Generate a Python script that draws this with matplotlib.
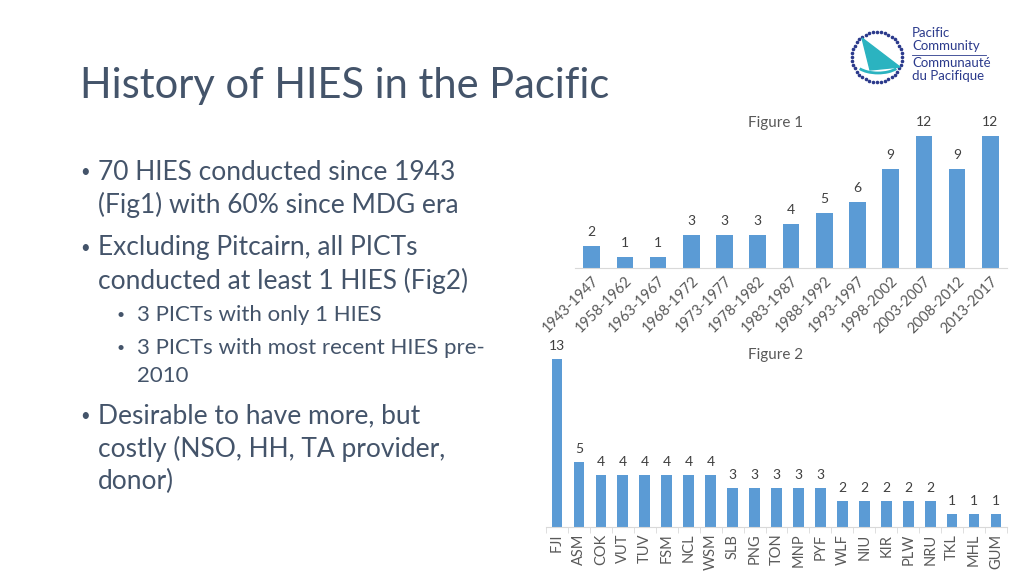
import numpy as np
import matplotlib
matplotlib.use("Agg")
import matplotlib.pyplot as plt
from matplotlib.patches import Polygon, Arc

plt.rcParams['font.family'] = ['Lato', 'DejaVu Sans']

# Figure 1 data: HIES by 5-year period
periods = ["1943-1947", "1958-1962", "1963-1967", "1968-1972", "1973-1977",
           "1978-1982", "1983-1987", "1988-1992", "1993-1997", "1998-2002",
           "2003-2007", "2008-2012", "2013-2017"]
period_counts = [2, 1, 1, 3, 3, 3, 4, 5, 6, 9, 12, 9, 12]

# Figure 2 data: HIES by country
countries = ["FJI", "ASM", "COK", "VUT", "TUV", "FSM", "NCL", "WSM", "SLB", "PNG",
             "TON", "MNP", "PYF", "WLF", "NIU", "KIR", "PLW", "NRU", "TKL", "MHL", "GUM"]
country_counts = [13, 5, 4, 4, 4, 4, 4, 4, 3, 3, 3, 3, 3, 2, 2, 2, 2, 2, 1, 1, 1]

bar_col = "#5B9BD5"
txt_col = "#44546A"
lab_col = "#404040"
W, H = 1024, 576

fig = plt.figure(figsize=(10.24, 5.76), dpi=100)
fig.patch.set_facecolor("white")


def px(x, y):
    return x / W, 1 - y / H


# title and bullets
fig.text(*px(80, 86), "History of HIES in the Pacific", fontsize=30,
         color=txt_col, va="center", ha="left")

main_lines = [(172, "70 HIES conducted since 1943", True),
              (205, "(Fig1) with 60% since MDG era", False),
              (248, "Excluding Pitcairn, all PICTs", True),
              (281, "conducted at least 1 HIES (Fig2)", False),
              (416, "Desirable to have more, but", True),
              (449, "costly (NSO, HH, TA provider,", False),
              (481, "donor)", False)]
for y, s, dot in main_lines:
    fig.text(*px(98, y), s, fontsize=19, color=txt_col, va="center")
    if dot:
        fig.text(*px(80, y), "•", fontsize=12, color=txt_col, va="center")

sub_lines = [(315, "3 PICTs with only 1 HIES", True),
             (348, "3 PICTs with most recent HIES pre-", True),
             (376, "2010", False)]
for y, s, dot in sub_lines:
    fig.text(*px(137, y), s, fontsize=16, color=txt_col, va="center")
    if dot:
        fig.text(*px(117, y), "•", fontsize=10, color=txt_col, va="center")

# Figure 1 chart
ax1 = fig.add_axes([575 / W, 1 - 268.3 / H, 432 / W, 148.5 / H])
x1 = np.arange(len(periods))
b1 = ax1.bar(x1, period_counts, width=0.5, color=bar_col)
ax1.set_xlim(-0.5, len(periods) - 0.5)
ax1.set_ylim(0, 13.5)
ax1.set_xticks(x1)
ax1.set_xticklabels(periods, rotation=45, ha="right", rotation_mode="anchor",
                    fontsize=10.5, color="#595959")
ax1.tick_params(axis="x", length=0, pad=4)
ax1.set_yticks([])
for s in ["top", "left", "right"]:
    ax1.spines[s].set_visible(False)
ax1.spines["bottom"].set_color("#D9D9D9")
for rect, v in zip(b1, period_counts):
    ax1.annotate(str(v), (rect.get_x() + rect.get_width() / 2, v),
                 xytext=(0, 6), textcoords="offset points", ha="center",
                 va="bottom", fontsize=10, color=lab_col, annotation_clip=False)
fig.text(*px(776, 123), "Figure 1", fontsize=11, color="#595959",
         ha="center", va="center")

# Figure 2 chart
ax2 = fig.add_axes([546 / W, 1 - 526.7 / H, 461 / W, 180.6 / H])
x2 = np.arange(len(countries))
b2 = ax2.bar(x2, country_counts, width=0.49, color=bar_col)
ax2.set_xlim(-0.5, len(countries) - 0.5)
ax2.set_ylim(0, 14)
ax2.set_xticks(x2)
ax2.set_xticklabels(countries, rotation=90, fontsize=10.5, color="#595959")
ax2.tick_params(axis="x", length=0, pad=5)
ax2.set_xticks(np.arange(-0.5, len(countries), 1), minor=True)
ax2.tick_params(axis="x", which="minor", length=4, color="#D9D9D9")
ax2.set_yticks([])
for s in ["top", "left", "right"]:
    ax2.spines[s].set_visible(False)
ax2.spines["bottom"].set_color("#D9D9D9")
for rect, v in zip(b2, country_counts):
    ax2.annotate(str(v), (rect.get_x() + rect.get_width() / 2, v),
                 xytext=(0, 5), textcoords="offset points", ha="center",
                 va="bottom", fontsize=10, color=lab_col, annotation_clip=False)
fig.text(*px(776, 355), "Figure 2", fontsize=11, color="#595959",
         ha="center", va="center")

# logo (rough)
lg = fig.add_axes([845 / W, 1 - 90 / H, 65 / W, 65 / H])
lg.set_xlim(845, 910)
lg.set_ylim(90, 25)
lg.axis("off")
ang = np.linspace(0, 2 * np.pi, 40, endpoint=False)
lg.scatter(877 + 25 * np.cos(ang), 57 + 25 * np.sin(ang), s=2.5, color="#2B3A8C")
lg.add_patch(Polygon([[862, 38], [870, 70], [900, 67]], closed=True,
                     color="#2BB3C0"))
lg.add_patch(Arc((878, 62), 46, 22, theta1=20, theta2=160, color="#2BB3C0", lw=2))
fig.text(*px(912, 33), "Pacific", fontsize=9.5, color="#2B3A8C", va="center")
fig.text(*px(912, 46), "Community", fontsize=9.5, color="#2B3A8C", va="center")
fig.add_artist(plt.Line2D([912 / W, 986 / W], [1 - 55 / H, 1 - 55 / H],
                          color="#2B3A8C", lw=0.6))
fig.text(*px(912, 63), "Communauté", fontsize=9.5, color="#2B3A8C", va="center")
fig.text(*px(912, 76), "du Pacifique", fontsize=9.5, color="#2B3A8C", va="center")

fig.savefig("out.png", dpi=100, facecolor="white")
